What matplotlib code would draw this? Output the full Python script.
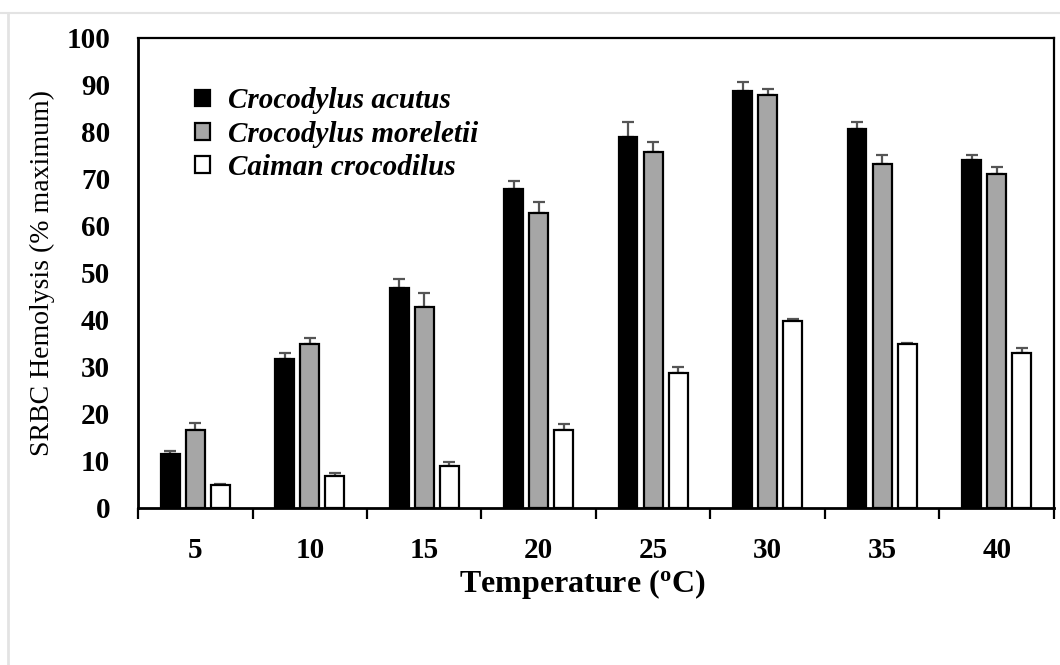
import numpy as np
import matplotlib
matplotlib.use("Agg")
import matplotlib.pyplot as plt
from matplotlib.lines import Line2D

# temperatures (oC)
temps = ["5", "10", "15", "20", "25", "30", "35", "40"]

# hemolysis (% maximum) and upper error bars
acutus = [11.5, 31.7, 46.8, 67.9, 78.9, 88.8, 80.6, 74.0]
acutus_err = [0.6, 1.2, 2.0, 1.7, 3.2, 1.8, 1.5, 1.0]
moreletii = [16.6, 34.9, 42.8, 62.8, 75.8, 87.9, 73.1, 71.0]
moreletii_err = [1.5, 1.3, 2.9, 2.4, 2.0, 1.3, 2.1, 1.5]
caiman = [4.9, 6.8, 8.9, 16.6, 28.7, 39.7, 34.8, 32.9]
caiman_err = [0.2, 0.6, 0.9, 1.3, 1.2, 0.6, 0.4, 1.1]

series = [
    ("Crocodylus acutus", acutus, acutus_err, "black"),
    ("Crocodylus moreletii", moreletii, moreletii_err, "#a6a6a6"),
    ("Caiman crocodilus", caiman, caiman_err, "white"),
]

plt.rcParams["font.family"] = ["Liberation Serif", "DejaVu Serif"]

fig = plt.figure(figsize=(10.6, 6.65), dpi=100)
ax = fig.add_axes([0.1302, 0.2361, 0.8641, 0.7068])

x = np.arange(len(temps))
offset = 0.22
width = 0.165

for i, (name, vals, errs, col) in enumerate(series):
    pos = x + (i - 1) * offset
    ax.errorbar(pos, vals, yerr=[np.zeros(len(errs)), errs], fmt="none",
                ecolor="#555555", elinewidth=1.6, capsize=4, capthick=1.6, zorder=1)
    ax.bar(pos, vals, width=width, color=col, edgecolor="black",
           linewidth=1.6, label=name, zorder=2)

ax.set_xlim(-0.5, len(temps) - 0.5)
ax.set_ylim(0, 100)
ax.set_yticks(range(0, 101, 10))
ax.tick_params(axis="y", length=0, pad=20, labelsize=21)
for lab in ax.get_yticklabels():
    lab.set_fontweight("bold")

# category labels at centers, tick marks at group boundaries
ax.set_xticks(x)
ax.set_xticklabels(temps, fontsize=21, fontweight="bold")
ax.tick_params(axis="x", which="major", length=0, pad=21)
ax.set_xticks(np.arange(-0.5, len(temps)), minor=True)
ax.tick_params(axis="x", which="minor", length=8, width=1.6, direction="out")

for side in ["left", "bottom"]:
    ax.spines[side].set_linewidth(2)
for side in ["top", "right"]:
    ax.spines[side].set_linewidth(1.6)

ax.set_ylabel("SRBC Hemolysis (% maximum)", fontsize=20, labelpad=8)
ax.set_xlabel("Temperature ($\\mathregular{^o}$C)", fontsize=23,
              fontweight="bold", labelpad=2, x=0.485)

leg = ax.legend(loc="upper left", bbox_to_anchor=(0.05, 0.92), frameon=False,
                prop={"size": 21, "weight": "bold", "style": "italic"},
                handlelength=0.5, handleheight=0.5, handletextpad=0.6,
                labelspacing=0.22, borderaxespad=0)

# faint page border from the screenshot
fig.add_artist(Line2D([0, 1], [0.980, 0.980], color="#e3e3e3", linewidth=1.5,
                      transform=fig.transFigure))
fig.add_artist(Line2D([0.008, 0.008], [0, 0.980], color="#e3e3e3", linewidth=2,
                      transform=fig.transFigure))

fig.savefig("out.png", dpi=100)
